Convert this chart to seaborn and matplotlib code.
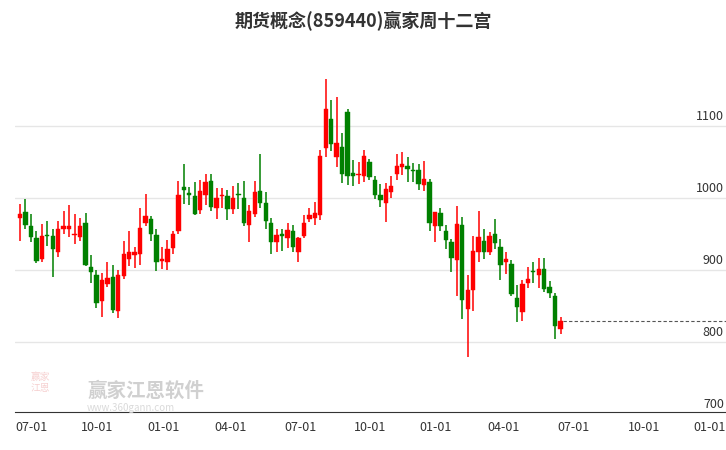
import numpy as np
import pandas as pd
import matplotlib
matplotlib.use("Agg")
import matplotlib.pyplot as plt
import seaborn as sns

# weekly candles
opens = [973, 981, 962, 945, 915, 948, 947, 926, 957, 958, 949, 946, 965, 905, 893, 857, 881, 891, 843, 892,
         916, 921, 922, 966, 971, 949, 913, 911, 931, 955, 1016, 1007, 1003, 984, 1005, 1024, 987, 1003, 1003, 985,
         1006, 1001, 963, 978, 1010, 993, 965, 939, 951, 945, 955, 926, 947, 971, 973, 977, 1070, 1110, 1057, 1071,
         1120, 1035, 1032, 1031, 1050, 1025, 1005, 993, 1008, 1033, 1043, 1045, 1039, 1039, 1018, 1023, 962, 980, 955, 939,
         914, 963, 846, 873, 926, 941, 926, 950, 932, 911, 909, 861, 842, 882, 899, 893, 902, 877, 864, 818]
closes = [978, 963, 946, 913, 948, 947, 929, 958, 961, 961, 950, 962, 907, 898, 855, 886, 889, 845, 894, 923,
          925, 925, 959, 976, 950, 912, 916, 929, 951, 1005, 1012, 1004, 978, 1010, 1023, 988, 1001, 1004, 985, 1001,
          1004, 965, 983, 1008, 994, 968, 939, 949, 947, 956, 932, 945, 965, 977, 980, 1059, 1124, 1075, 1077, 1033,
          1031, 1031, 1033, 1059, 1030, 1005, 997, 1013, 1017, 1045, 1047, 1040, 1038, 1020, 1027, 965, 981, 961, 942, 917,
          964, 859, 873, 927, 946, 926, 947, 938, 907, 915, 867, 849, 881, 888, 897, 902, 874, 869, 822, 830]
highs = [992, 999, 978, 955, 964, 969, 957, 968, 982, 991, 978, 972, 979, 921, 900, 896, 911, 908, 901, 940,
         955, 933, 986, 1006, 976, 957, 932, 942, 954, 1024, 1047, 1016, 1023, 1026, 1033, 1033, 1014, 1014, 1012, 1017,
         1021, 1024, 990, 1024, 1061, 1008, 973, 957, 958, 966, 963, 946, 977, 987, 995, 1067, 1165, 1136, 1140, 1090,
         1124, 1053, 1051, 1067, 1055, 1031, 1020, 1021, 1031, 1062, 1064, 1057, 1049, 1047, 1052, 1027, 981, 987, 963, 944,
         989, 974, 894, 947, 982, 957, 953, 971, 944, 925, 914, 880, 887, 904, 912, 917, 917, 885, 869, 835]
lows = [941, 958, 939, 910, 912, 934, 891, 918, 950, 946, 937, 940, 906, 882, 848, 835, 877, 841, 834, 888,
        906, 903, 908, 962, 940, 899, 902, 901, 923, 950, 992, 990, 977, 978, 991, 983, 971, 987, 970, 978,
        985, 962, 939, 974, 987, 957, 923, 925, 927, 931, 926, 912, 945, 967, 963, 970, 1057, 1066, 1043, 1021,
        1019, 1017, 1020, 1023, 1025, 999, 988, 967, 1000, 1026, 1032, 1022, 1023, 1011, 1010, 955, 939, 955, 930, 898,
        864, 832, 779, 843, 911, 915, 921, 930, 887, 895, 864, 828, 830, 876, 882, 876, 870, 862, 805, 811]

tick_labels = ["07-01", "10-01", "01-01", "04-01", "07-01", "10-01", "01-01", "04-01", "07-01", "10-01", "01-01"]
tick_pos = [2.2, 14.2, 26.3, 38.5, 51.4, 64.2, 76.1, 88.5, 101.4, 114.3, 126.3]
y_ticks = [700, 800, 900, 1000, 1100]

df = pd.DataFrame({"open": opens, "high": highs, "low": lows, "close": closes})
df["idx"] = np.arange(len(df))
df["up"] = df["close"] >= df["open"]

sns.set_style("white")
plt.rcParams["font.family"] = ["Noto Sans CJK SC", "DejaVu Sans"]

RED, GREEN = "#ff0000", "#008000"

fig = plt.figure(figsize=(7.26, 4.5), dpi=100)
ax = fig.add_axes([0.02, 0.084, 0.98, 0.826])

for y in y_ticks[1:]:
    ax.axhline(y, color="#e6e6e6", lw=1, zorder=0)

colors = np.where(df["up"], RED, GREEN)
ax.vlines(df["idx"], df["low"], df["high"], colors=colors, lw=1.1, zorder=2)
body_lo = df[["open", "close"]].min(axis=1)
body_h = (df["close"] - df["open"]).abs().clip(lower=1.5)
ax.bar(df["idx"], body_h, bottom=body_lo, width=0.8, color=colors, edgecolor=colors, lw=0.3, zorder=3)

last = df["close"].iloc[-1]
ax.plot([df["idx"].iloc[-1] + 0.5, 129.3], [last, last], ls=(0, (3, 2)), color="#555555", lw=0.8)

ax.set_xlim(-1, 129.3)
ax.set_ylim(703, 1219)
ax.set_xticks(tick_pos)
ax.set_xticklabels(tick_labels, fontsize=9, color="#333333")
ax.tick_params(axis="x", length=4, color="#333333", pad=2)
ax.set_yticks([])
for y in y_ticks:
    ax.text(0.997, y + 4, str(y), transform=ax.get_yaxis_transform(), ha="right", va="bottom",
            fontsize=9, color="#333333")

for s in ["top", "right", "left"]:
    ax.spines[s].set_visible(False)
ax.spines["bottom"].set_color("#333333")

# watermark
fig.text(0.055, 0.15, "赢家\n江恩", fontsize=7, color="#f0b0b0", ha="center", va="center", alpha=0.6)
fig.text(0.12, 0.13, "赢家江恩软件", fontsize=14, color="#d0d0d0", ha="left", va="center", fontweight="bold")
fig.text(0.12, 0.093, "www.360gann.com", fontsize=7, color="#dadada", ha="left", va="center")

fig.suptitle("期货概念(859440)赢家周十二宫", y=0.975, fontsize=13, fontweight="bold", color="#333333")

fig.savefig("out.png", dpi=100, facecolor="white")
